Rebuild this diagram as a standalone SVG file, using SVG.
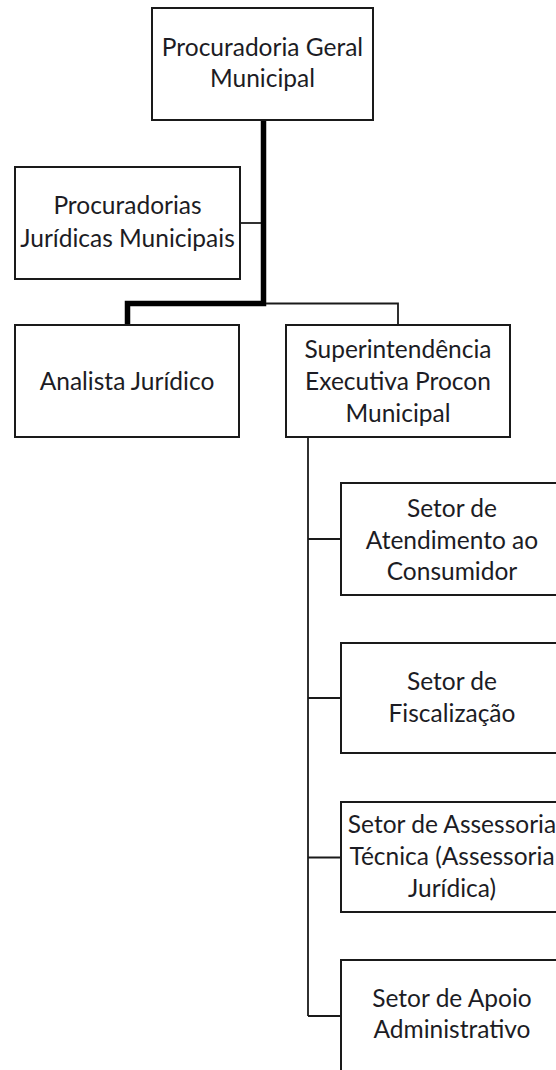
<svg xmlns="http://www.w3.org/2000/svg" width="556" height="1070" viewBox="0 0 556 1070">
<style>
.box{fill:#fff;stroke:#1a1a1a;stroke-width:2}
.t{font-family:Lato,"Open Sans",sans-serif;font-size:24.5px;fill:#1c1c24;text-anchor:middle}
.thin{fill:none;stroke:#1a1a1a;stroke-width:1.8}
.thick{fill:none;stroke:#000;stroke-width:5.5;stroke-linejoin:miter}
</style>
<rect width="556" height="1070" fill="#fff"/>
<g id="connectors">
<path class="thick" d="M263.5 120 V303.5 H127.5 V325"/>
<path class="thin" d="M240 223 H261"/>
<path class="thin" d="M266 303.5 H398 V325"/>
<path class="thin" d="M308 437 V1016"/>
<path class="thin" d="M308 539 H341"/>
<path class="thin" d="M308 698 H341"/>
<path class="thin" d="M308 857.5 H341"/>
<path class="thin" d="M308 1016 H341"/>
</g>
<g id="n-pgm">
<rect class="box" x="152" y="8" width="221" height="112"/>
<text class="t" x="262.5" y="56">Procuradoria Geral</text>
<text class="t" x="262.5" y="87">Municipal</text>
</g>
<g id="n-pjm">
<rect class="box" x="15" y="167" width="225" height="112"/>
<text class="t" x="127.5" y="214">Procuradorias</text>
<text class="t" x="127.5" y="247">Jurídicas Municipais</text>
</g>
<g id="n-aj">
<rect class="box" x="15" y="325" width="224" height="112"/>
<text class="t" x="127" y="390">Analista Jurídico</text>
</g>
<g id="n-sepm">
<rect class="box" x="286" y="325" width="224" height="112"/>
<text class="t" x="398" y="358">Superintendência</text>
<text class="t" x="398" y="390">Executiva Procon</text>
<text class="t" x="398" y="422">Municipal</text>
</g>
<g id="n-sac">
<rect class="box" x="341" y="483" width="225" height="112"/>
<text class="t" x="452" y="517">Setor de</text>
<text class="t" x="452" y="548.5">Atendimento ao</text>
<text class="t" x="452" y="580">Consumidor</text>
</g>
<g id="n-sf">
<rect class="box" x="341" y="643" width="225" height="110"/>
<text class="t" x="452" y="690">Setor de</text>
<text class="t" x="452" y="722">Fiscalização</text>
</g>
<g id="n-sat">
<rect class="box" x="341" y="802" width="225" height="110"/>
<text class="t" x="452" y="833">Setor de Assessoria</text>
<text class="t" x="452" y="865">Técnica (Assessoria</text>
<text class="t" x="452" y="897">Jurídica)</text>
</g>
<g id="n-saa">
<rect class="box" x="341" y="960" width="225" height="112"/>
<text class="t" x="452" y="1007">Setor de Apoio</text>
<text class="t" x="452" y="1038">Administrativo</text>
</g>
</svg>
